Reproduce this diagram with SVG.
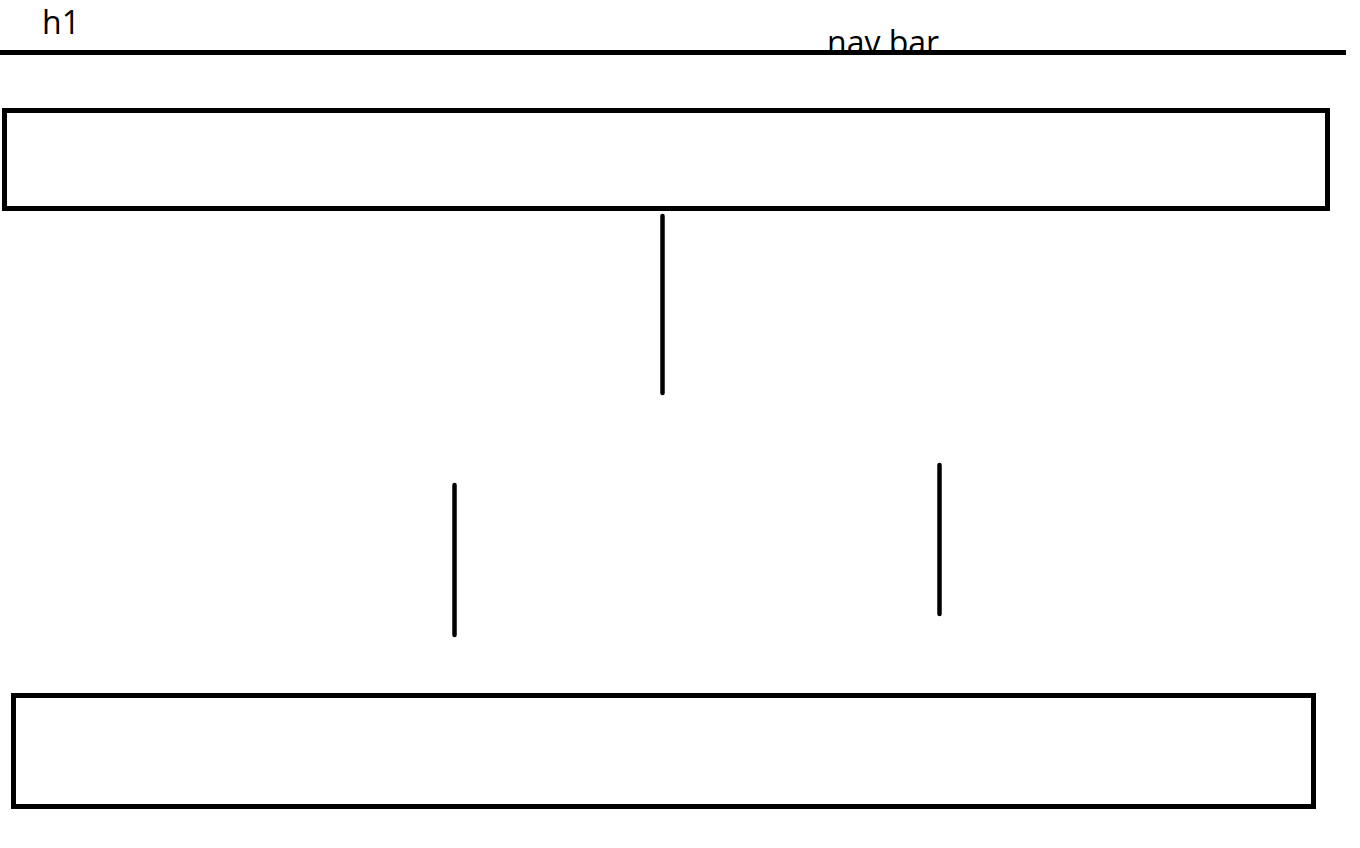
<svg xmlns="http://www.w3.org/2000/svg" width="1360" height="848" viewBox="0 0 1360 848">
<style>
.box{fill:none;stroke:#000;stroke-width:5}
.ln{stroke:#000;stroke-width:4.5;stroke-linecap:round;fill:none}
.t{font-family:"Open Sans","Noto Sans",sans-serif;font-size:32px;fill:#000}
</style>
<rect width="1360" height="848" fill="#fff"/>
<g id="h1"><text class="t" x="42" y="34">h1</text></g>
<g id="navbar">
<text class="t" x="827" y="54">nav bar</text>
<line x1="0" y1="52.5" x2="1346" y2="52.5" stroke="#000" stroke-width="5"/>
</g>
<g id="header-box"><rect class="box" x="4.5" y="110.5" width="1323" height="98"/></g>
<g id="footer-box"><rect class="box" x="13.5" y="695.5" width="1300" height="111"/></g>
<g id="connectors">
<line class="ln" x1="662.5" y1="216" x2="662.5" y2="393"/>
<line class="ln" x1="454.5" y1="485" x2="454.5" y2="635"/>
<line class="ln" x1="939.5" y1="465" x2="939.5" y2="614"/>
</g>
</svg>
